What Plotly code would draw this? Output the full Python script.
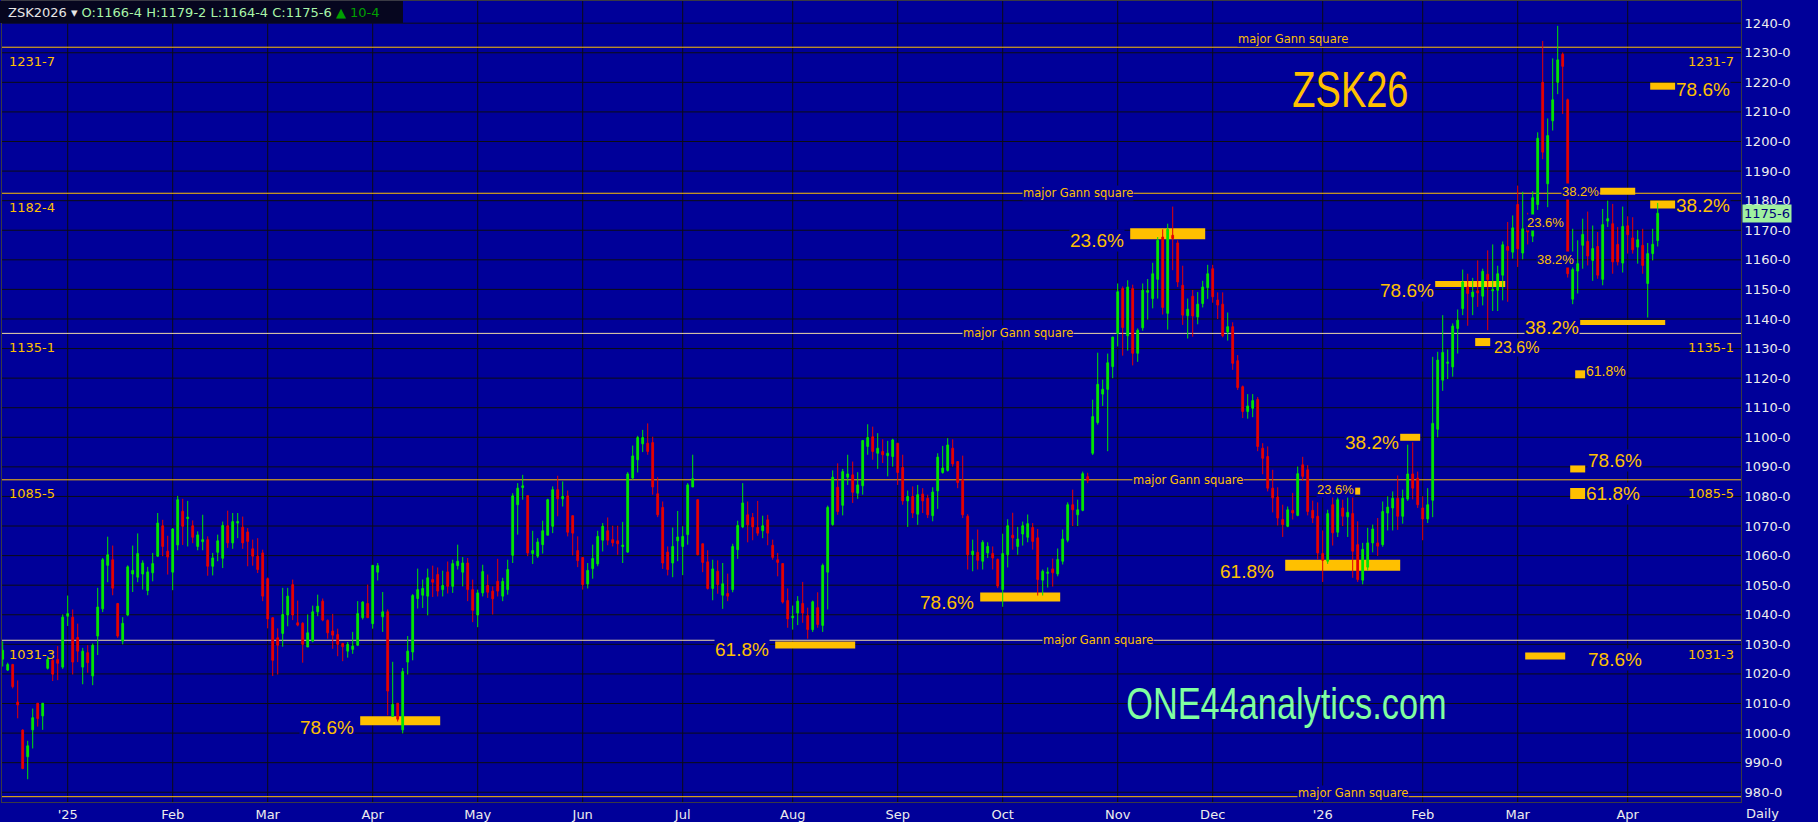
import math

import pandas as pd
import plotly.graph_objects as go


# ==========================================================
# DATA  (ZSK2026 daily, cents per bushel)
# ==========================================================

SYMBOL = "ZSK2026"
FIRST_SESSION = "2024-12-12"

HOLIDAYS = [
    "2024-12-25", "2025-01-01", "2025-01-20", "2025-02-17", "2025-04-18",
    "2025-05-26", "2025-06-19", "2025-07-04", "2025-09-01", "2025-11-27",
    "2025-12-25", "2026-01-01", "2026-01-19", "2026-02-16", "2026-04-03",
]

OPEN = [
    1025, 1021.3, 1023.2, 1010.5, 1001, 992, 1001.1, 1010.1, 1005.8, 1021.9,
    1024.6, 1024.9, 1022.3, 1039.5, 1039.2, 1032.3, 1022.3, 1027.2, 1019.3, 1032.8,
    1042, 1056.7, 1058.6, 1043.8, 1031.1, 1039.9, 1053.8, 1052.7, 1053.8, 1048.2,
    1054.2, 1059.8, 1070.1, 1061.5, 1054.4, 1063.6, 1075, 1072.5, 1070.1, 1063.1,
    1064.7, 1065.4, 1056.4, 1061.1, 1059.1, 1070.1, 1064.3, 1071, 1069.6, 1068,
    1062.3, 1059.8, 1060.9, 1052.2, 1039, 1032.2, 1033.7, 1039.9, 1050.2, 1037.3,
    1037.1, 1029.1, 1031.1, 1041, 1044.6, 1038.1, 1034.5, 1033.3, 1030.3, 1027.7,
    1028.3, 1029.7, 1039, 1043.8, 1037, 1054.4, 1039.3, 1041, 1005.6, 1010.1,
    1001.1, 1024, 1027.4, 1045.5, 1046.6, 1046.3, 1051.9, 1053.6, 1048.5, 1054.5,
    1049.6, 1056.6, 1054.4, 1057.5, 1048.5, 1039.9, 1047.4, 1049.9, 1048, 1051.3,
    1046.3, 1048.5, 1060.1, 1077.2, 1083, 1080.3, 1060.7, 1059.8, 1063.7, 1066.9,
    1069.9, 1082.3, 1079.2, 1080.2, 1073.5, 1061.7, 1059.4, 1050.4, 1055.6, 1057.2,
    1065.2, 1068.4, 1065.4, 1065, 1063.1, 1061.2, 1086.2, 1092.4, 1097.8, 1098,
    1098.2, 1080.9, 1076.3, 1061.2, 1057.5, 1065, 1063.1, 1067.1, 1083.2, 1078.9,
    1064, 1057.9, 1048.9, 1054.7, 1046.6, 1047.2, 1048.5, 1062, 1069.7, 1073.8,
    1072.9, 1069.5, 1068.4, 1072.1, 1063.5, 1058.6, 1057.3, 1044.8, 1039, 1040.6,
    1043.8, 1039.7, 1035, 1042.4, 1036.4, 1054.4, 1070.5, 1083.1, 1077, 1086.5,
    1087.3, 1081.1, 1083.6, 1096.9, 1100.2, 1094.6, 1095.2, 1093.8, 1093.5, 1098,
    1089.8, 1078.5, 1080, 1074, 1080.8, 1079.4, 1073.5, 1081.9, 1088.1, 1088.8,
    1096.3, 1091.8, 1085.6, 1073.3, 1060.3, 1061.1, 1058.1, 1060.9, 1060.7, 1058.7,
    1048.5, 1060.3, 1066.9, 1063.1, 1067.3, 1066.2, 1069.5, 1066, 1051.7, 1054,
    1055.5, 1053.8, 1058.1, 1065.2, 1077.2, 1073.8, 1075.3, 1086.7, 1094.6, 1105,
    1114.6, 1116.2, 1123.9, 1135.1, 1150.3, 1134.3, 1150.3, 1128.4, 1137, 1149,
    1146.9, 1153.4, 1167.7, 1141.9, 1168.3, 1165.7, 1151.4, 1141.1, 1147.7, 1140.7,
    1145.2, 1150.6, 1157, 1146.4, 1145, 1135.6, 1137.4, 1125.9, 1117.1, 1108.7,
    1109.8, 1112.8, 1096.3, 1093.5, 1082.8, 1079.8, 1072.2, 1069.9, 1075.3, 1073.6,
    1090.7, 1089, 1075.3, 1073.3, 1060.7, 1058.1, 1077.2, 1067.9, 1076.1, 1073.1,
    1074.2, 1063.7, 1051.7, 1056.1, 1064.3, 1064.3, 1063.7, 1074.4, 1076.1, 1079.4,
    1073.3, 1079.1, 1087.6, 1086.2, 1076.1, 1072.4, 1078.7, 1102.7, 1119.3, 1125,
    1123.8, 1136.8, 1143.5, 1150.8, 1147.5, 1149.5, 1147.7, 1155.1, 1149.5, 1149.7,
    1154.8, 1164.5, 1162.6, 1178.7, 1162.3, 1171, 1168, 1178.7, 1220, 1185.7,
    1207, 1220, 1229.5, 1214.1, 1146.7, 1156.2, 1164.9, 1166.2, 1159.8, 1164.5,
    1153.4, 1173.1, 1172.2, 1165.2, 1158.9, 1171.5, 1167.4, 1164.3, 1164.9, 1152,
    1162.1, 1166.5,
]

HIGH = [
    1031, 1023.8, 1023.4, 1017.8, 1001.3, 997.4, 1008.3, 1010.1, 1010.1, 1026,
    1025, 1029.4, 1040.1, 1046.5, 1041.8, 1037, 1028.8, 1029.7, 1030.3, 1049.1,
    1059.2, 1066.4, 1063.4, 1044, 1039.2, 1056.7, 1063.4, 1067.5, 1058.4, 1056.2,
    1060.9, 1074.4, 1072.1, 1066.7, 1069.3, 1080.2, 1079.2, 1078.5, 1071.9, 1068.2,
    1073.8, 1066.5, 1060.9, 1067.1, 1071.5, 1075.2, 1074.4, 1074.4, 1073.2, 1069.3,
    1065.4, 1065.9, 1062, 1052.6, 1039.2, 1035.4, 1049.1, 1049.1, 1051.9, 1044.8,
    1037.5, 1040.1, 1043.1, 1046.8, 1045.5, 1038.4, 1040.3, 1035.3, 1030.5, 1030.8,
    1034.2, 1044.6, 1044.6, 1050.2, 1056.7, 1057.5, 1047.7, 1041.8, 1024.1, 1010.1,
    1022, 1032.8, 1047, 1055.6, 1051.9, 1055.6, 1056.6, 1056, 1054.9, 1058,
    1058.6, 1063.7, 1059.5, 1059.2, 1051.9, 1048.5, 1056.9, 1053.6, 1049.6, 1058.9,
    1052.5, 1058.6, 1081.1, 1084.5, 1087.3, 1080.3, 1068.4, 1065.9, 1071.8, 1079.2,
    1083.4, 1087, 1085.1, 1082, 1073.5, 1066.5, 1059.4, 1057.5, 1063.7, 1068.4,
    1071, 1072.9, 1070.1, 1070.1, 1071.4, 1088.2, 1097.2, 1100.5, 1102.5, 1104.7,
    1100.2, 1086.5, 1078.3, 1063.1, 1069.5, 1075.1, 1069.9, 1084.5, 1094.1, 1079,
    1064, 1061.8, 1058.6, 1058.4, 1057.5, 1053.9, 1064, 1071.8, 1084.5, 1078.3,
    1074.4, 1078.5, 1073.5, 1073.8, 1065.4, 1060.9, 1057.3, 1048.9, 1043.1, 1046.3,
    1051.1, 1042.4, 1044.8, 1047.6, 1057.3, 1076.9, 1088.8, 1091.2, 1089.3, 1094.1,
    1091.8, 1088.2, 1099.1, 1104.4, 1103.6, 1101.4, 1099.3, 1098.8, 1099.5, 1098,
    1094.1, 1082, 1083.4, 1083.9, 1082.8, 1080.6, 1083.1, 1094.6, 1097.1, 1099.7,
    1099.3, 1091.8, 1093.8, 1074, 1065.4, 1068.8, 1065.2, 1064.5, 1063.1, 1059,
    1067.4, 1072.3, 1074.5, 1069.7, 1071.5, 1073.9, 1071, 1069, 1055.3, 1056,
    1059, 1062.4, 1068.8, 1078, 1082.3, 1078.9, 1088.4, 1088, 1112.7, 1128.6,
    1119.5, 1128.3, 1133.9, 1152, 1151, 1153.1, 1151.6, 1136.8, 1152, 1153.5,
    1159, 1167.7, 1170.3, 1172.2, 1178, 1166.6, 1158, 1146.9, 1149.8, 1149.1,
    1152.9, 1158.3, 1158.3, 1149, 1149, 1142.2, 1138.9, 1127.8, 1117.5, 1114.6,
    1114.6, 1113.6, 1098, 1096.9, 1089, 1083.1, 1077.2, 1076.6, 1081.2, 1090.1,
    1093.4, 1090.6, 1078.6, 1078, 1068.5, 1075.5, 1082.3, 1080, 1078.9, 1080.6,
    1083.6, 1071.6, 1064.3, 1069.4, 1070.5, 1072.7, 1078.3, 1080, 1081.7, 1087.1,
    1082.3, 1097.5, 1098.3, 1088.4, 1080, 1082.8, 1127.2, 1128.9, 1141.3, 1129.7,
    1138.5, 1143.2, 1156.7, 1155.3, 1153.9, 1159.8, 1157, 1163.2, 1165.2, 1158,
    1166.2, 1172.8, 1175, 1185.1, 1183, 1175.9, 1183.2, 1203.1, 1234, 1207.8,
    1228.1, 1239.1, 1230.1, 1214.5, 1170.5, 1166.6, 1173.9, 1176.3, 1171.6, 1169.4,
    1177.2, 1180, 1178.9, 1171.1, 1178, 1174.7, 1174.4, 1170, 1170.5, 1165.7,
    1170.5, 1179.25,
]

LOW = [
    1022.5, 1021, 1015.1, 1005, 987.8, 984.4, 994.8, 1002.2, 1001.1, 1021.5,
    1017.6, 1017.9, 1021.7, 1036.2, 1019.8, 1024, 1016.5, 1020.4, 1016.2, 1026.4,
    1040.9, 1051, 1046.6, 1032.2, 1030, 1039.5, 1047.7, 1051, 1048.5, 1046.6,
    1051.3, 1059.5, 1059.8, 1053.6, 1048.3, 1061.8, 1063.6, 1063.1, 1064.2, 1061.8,
    1061.8, 1053.2, 1053.3, 1058.1, 1055.8, 1062.6, 1062.3, 1065.9, 1062.3, 1056.4,
    1056.6, 1054.1, 1044.6, 1035.4, 1019.3, 1019.8, 1029.2, 1036.1, 1038.2, 1036.1,
    1023.8, 1029.1, 1030.7, 1039.5, 1037.8, 1031.9, 1028.5, 1026, 1024.3, 1025.5,
    1026.8, 1029.4, 1038.4, 1039, 1035.3, 1051.6, 1034.2, 1006, 1005.6, 1003.9,
    999.9, 1019.8, 1024.6, 1042.1, 1042.3, 1039.8, 1046, 1046.2, 1046.2, 1047.2,
    1047.4, 1055.3, 1049.6, 1044.6, 1037.5, 1035.8, 1046.2, 1045.7, 1040.1, 1046.2,
    1044.6, 1046.8, 1057.5, 1067.1, 1078.9, 1059.8, 1057.2, 1059.2, 1060.7, 1066.9,
    1067.6, 1073.3, 1076.6, 1066.5, 1060.1, 1056.1, 1048.5, 1048.9, 1052.2, 1056.4,
    1061.4, 1063.5, 1063.1, 1060.3, 1057.5, 1060.9, 1085.6, 1088.1, 1095, 1094.1,
    1080.6, 1073, 1055.5, 1053.3, 1052.7, 1058.1, 1053.4, 1063.7, 1083.2, 1060.1,
    1054.4, 1048.5, 1044.9, 1047.1, 1042, 1044.6, 1047.6, 1058.9, 1069.3, 1064.5,
    1065.2, 1066.7, 1065.9, 1063.5, 1058.6, 1053, 1043.8, 1035.6, 1035, 1036.5,
    1037.3, 1031.9, 1034.2, 1035.6, 1034.2, 1041.8, 1070.1, 1073.8, 1073.6, 1083.9,
    1077.8, 1079.2, 1080.6, 1094.1, 1092.4, 1089.3, 1091.3, 1086.8, 1090.1, 1083.9,
    1077.2, 1069.7, 1072.7, 1070.4, 1074.4, 1072.7, 1071.6, 1075.8, 1087.7, 1088.4,
    1090.1, 1082.8, 1072.7, 1055.3, 1054.7, 1055.3, 1055.3, 1059.2, 1055.3, 1049,
    1042.7, 1056, 1062, 1060.3, 1063.4, 1064.5, 1062, 1046.5, 1046.5, 1049.2,
    1049.5, 1053, 1057, 1064.5, 1070, 1070, 1075, 1084.5, 1094, 1104.3,
    1110.6, 1095.3, 1120, 1130.7, 1127.6, 1129.3, 1124.3, 1125.5, 1136, 1139.8,
    1143.6, 1146.9, 1141.5, 1136.4, 1156.5, 1150.8, 1138, 1133.4, 1134, 1138.2,
    1143.9, 1146.8, 1145.5, 1140, 1133.8, 1132.7, 1122.8, 1116, 1106.5, 1106.3,
    1106.8, 1095.3, 1087.5, 1081.7, 1074.6, 1070.2, 1066.3, 1069.6, 1072.2, 1073.3,
    1085.3, 1073.6, 1071, 1058.7, 1051.1, 1057.2, 1063.4, 1066.3, 1070, 1066.3,
    1052.5, 1051.1, 1050.3, 1055, 1061.1, 1059.9, 1063, 1068.5, 1068.5, 1068.7,
    1070.8, 1078.5, 1079, 1076.1, 1065.2, 1071, 1073, 1100, 1115.7, 1119.7,
    1120.5, 1128.3, 1141.3, 1137.7, 1141.3, 1144.1, 1144.6, 1136.2, 1142.7, 1142.7,
    1146.3, 1145.8, 1160.4, 1157.6, 1160.2, 1165.2, 1166, 1176.9, 1194, 1177.8,
    1203.7, 1216, 1209.3, 1154, 1145, 1148.6, 1157, 1158.1, 1152.9, 1153.6,
    1151.4, 1171.1, 1155.3, 1158.1, 1155.7, 1162.1, 1162.1, 1158.7, 1155.3, 1140.5,
    1159.8, 1164.5,
]

CLOSE = [
    1028, 1023.2, 1015.7, 1009.5, 988, 995.7, 1005.2, 1004.9, 1010.1, 1024.9,
    1019.9, 1023.6, 1039.2, 1040.4, 1024, 1027.7, 1027.7, 1023.8, 1029.7, 1042.6,
    1058.6, 1060.3, 1049, 1032.8, 1037.1, 1056.2, 1055, 1060.7, 1057.5, 1054.5,
    1057.3, 1071, 1063.1, 1059.5, 1069, 1078.9, 1069.9, 1073, 1066.2, 1067,
    1065.4, 1056.4, 1059.2, 1065, 1070.2, 1064.3, 1071.5, 1071.5, 1064.3, 1064.8,
    1059.8, 1055.3, 1046.3, 1038.6, 1024.6, 1029.7, 1040.1, 1046.3, 1039.9, 1036.5,
    1030, 1033.9, 1041, 1042.9, 1038.2, 1033.9, 1033.1, 1030, 1029.2, 1030,
    1029.4, 1040.4, 1044.3, 1039, 1056.7, 1056.6, 1041, 1014.2, 1009.7, 1004.7,
    1020.8, 1027.7, 1046.5, 1048.5, 1048.9, 1052.5, 1051, 1048, 1049.9, 1049.6,
    1057.3, 1058.1, 1057.5, 1048.5, 1041.5, 1047.4, 1054.6, 1047.6, 1045.4, 1048,
    1051.3, 1055.3, 1080.2, 1082.8, 1083.6, 1060.9, 1061.7, 1064.6, 1068.4, 1078.9,
    1082.3, 1079.2, 1080, 1067.9, 1067.6, 1058.3, 1050.2, 1055, 1059, 1066.5,
    1069.9, 1065.2, 1064.3, 1064, 1063.5, 1087.6, 1093.7, 1099.9, 1099.9, 1095.2,
    1083.2, 1073.8, 1057.5, 1055.3, 1063.1, 1066.3, 1066.5, 1083.9, 1086, 1060.3,
    1057.7, 1048.9, 1055.5, 1050.2, 1050.5, 1046.3, 1063.1, 1070.2, 1077.8, 1070.4,
    1069.7, 1067.6, 1070.1, 1067.6, 1059.4, 1057.7, 1044.3, 1038.6, 1039.5, 1044.6,
    1040.6, 1035, 1044.4, 1036.7, 1056.7, 1076.3, 1086.5, 1074.9, 1088.4, 1087.6,
    1081.4, 1083.9, 1098.9, 1099.9, 1095.2, 1096.3, 1094.1, 1094.6, 1099.1, 1088.1,
    1078.5, 1080, 1074.4, 1080.6, 1078.5, 1073.8, 1081.5, 1093.3, 1089.6, 1097.4,
    1091, 1084.7, 1073.8, 1060.3, 1061.5, 1058.4, 1064.5, 1063.1, 1059.2, 1049.7,
    1060.7, 1070.1, 1066, 1065.6, 1070.1, 1070.8, 1064.8, 1051.9, 1054.7, 1054.4,
    1054.2, 1058.7, 1065.6, 1077.2, 1075.5, 1075.5, 1087.7, 1085.4, 1107, 1117.9,
    1116.2, 1125.2, 1133.9, 1149.2, 1137.1, 1150.8, 1128.4, 1136.2, 1149.7, 1149.6,
    1155.3, 1166.6, 1143.9, 1170.3, 1167.2, 1152.5, 1141.3, 1143.3, 1141, 1145,
    1150.8, 1155.3, 1147.5, 1144.7, 1134.3, 1137.4, 1125, 1116.8, 1108.7, 1110.6,
    1112.4, 1096.9, 1092.9, 1082.8, 1079.5, 1072.7, 1070.5, 1075.5, 1074.4, 1087.7,
    1086.8, 1074.9, 1072.7, 1060.9, 1058.4, 1074.2, 1067.7, 1078.9, 1073.3, 1074.6,
    1061.5, 1051.9, 1062.1, 1064.3, 1069, 1063.2, 1074.9, 1076.4, 1079.4, 1073.3,
    1079.4, 1087.6, 1082.8, 1077.2, 1072.4, 1077.2, 1104.7, 1126.1, 1128.7, 1125.4,
    1137.6, 1139.6, 1152.5, 1148.6, 1149.1, 1148.8, 1156.1, 1153.3, 1149.9, 1155.3,
    1165.1, 1163.2, 1170.8, 1163.7, 1170.5, 1169.4, 1181, 1201.1, 1196.4, 1202,
    1214.1, 1227.6, 1225.4, 1155.3, 1156.7, 1158.7, 1168.6, 1161.3, 1163.8, 1154.8,
    1171.9, 1173.9, 1159.3, 1159.3, 1171.3, 1168.5, 1163.4, 1166.8, 1158.1, 1162.1,
    1165.25, 1175.75,
]

# Major Gann squares (price levels) and where their caption sits
GANN_LEVELS = [1231.875, 1182.5, 1135.125, 1085.625, 1031.375, 978.5]
GANN_CAPTION_DATES = [
    "2025-12-23", "2025-10-22", "2025-10-06", "2025-11-21", "2025-10-28", "2026-01-12",
]

# Fibonacci retracement markers
FIB_TEXT = [
    "78.6%", "61.8%", "78.6%", "23.6%", "61.8%", "23.6%", "38.2%", "78.6%", "38.2%",
    "23.6%", "61.8%", "78.6%", "61.8%", "78.6%", "38.2%", "78.6%", "38.2%",
]
FIB_LEVEL = [
    1004.2, 1029.8, 1046.0, 1168.8, 1056.7, 1081.8, 1100.0, 1151.8, 1138.8,
    1132.2, 1121.3, 1089.3, 1081.0, 1026.1, 1178.7, 1218.7, 1183.2,
]
FIB_START = [
    "2025-03-28", "2025-07-29", "2025-09-25", "2025-11-06", "2025-12-22", "2026-01-13",
    "2026-01-27", "2026-02-05", "2026-03-19", "2026-02-18", "2026-03-18", "2026-03-17",
    "2026-03-17", "2026-03-04", "2026-04-09", "2026-04-09", "2026-03-25",
]
FIB_END = [
    "2025-04-21", "2025-08-19", "2025-10-16", "2025-11-26", "2026-01-26", "2026-01-13",
    "2026-01-30", "2026-02-25", "2026-04-13", "2026-02-20", "2026-03-19", "2026-03-19",
    "2026-03-19", "2026-03-13", "2026-04-15", "2026-04-15", "2026-04-02",
]

# Loose retracement captions without a marker bar
NOTE_TEXT = ["23.6%", "38.2%"]
NOTE_LEVEL = [1172.6, 1160.2]
NOTE_DATE = ["2026-03-04", "2026-03-06"]

MONTH_TEXT = [
    "'25", "Feb", "Mar", "Apr", "May", "Jun", "Jul", "Aug",
    "Sep", "Oct", "Nov", "Dec", "'26", "Feb", "Mar", "Apr",
]
Y_TICKS = list(range(980, 1250, 10))


# ==========================================================
# STYLE
# ==========================================================

BG = "#000099"
GRID = "#0c0c14"
ORANGE = "#FFC000"
PALE = "#EED9A6"
UP = "#00E600"
DOWN = "#E60000"
AXIS_FONT = dict(family="DejaVu Sans", size=13, color="#EDEDED")
SANS = "Liberation Sans, Arial"

GANN_COLOR = [ORANGE, ORANGE, PALE, ORANGE, PALE, ORANGE]
GANN_CAPTION_DY = [-8, 0, 0, 0, 0, -4]
GANN_SIDE = [True, True, True, True, True, False]
GANN_RIGHT = [True, False, True, True, True, False]

# side of caption, font size, bar thickness, gap (px), vertical offset (px)
FIB_SIDE = ["L"] * 9 + ["R"] * 7 + ["L"]
FIB_SIZE = [19, 19, 19, 19, 19, 13, 19, 19, 19, 16, 14, 19, 19, 19, 19, 19, 13]
FIB_THICK = [9, 7, 9, 11, 11, 7, 7, 6, 5, 8, 8, 7, 11, 7, 8, 7, 7]
FIB_GAP = [5, 5, 5, 5, 10, 0, 0, 0, 0, 3, 0, 2, 0, 22, 0, 0, 0]
FIB_DY = [6.5, 4.5, 5.5, 6.5, 6, -1.5, 5.5, 6.3, 4.5, 5, -3, -8, 0, 3.5, 1, 3.5, 0]


# ==========================================================
# HELPERS
# ==========================================================

NOON = pd.Timedelta(hours=12)
DAY = pd.Timedelta(days=1)

cal = pd.bdate_range(FIRST_SESSION, "2026-06-30")
cal = cal[~cal.isin(pd.to_datetime(HOLIDAYS))]
dates = cal[: len(OPEN)] + NOON


def stamp(ts):
    return ts.strftime("%Y-%m-%d %H:%M:%S")


def pos(i):
    """0-based fractional session index -> timestamp on the broken axis."""
    base = int(math.floor(i))
    return stamp(cal[base] + NOON + (i - base) * DAY)


def idx(day):
    return cal.get_loc(pd.Timestamp(day))


def eighths(v):
    whole = int(math.floor(v + 1e-9))
    e = int(round((v - whole) * 8))
    if e == 8:
        whole, e = whole + 1, 0
    return f"{whole}-{e}"


# ==========================================================
# FIGURE
# ==========================================================

fig = go.Figure(
    go.Candlestick(
        x=[stamp(d) for d in dates],
        open=OPEN,
        high=HIGH,
        low=LOW,
        close=CLOSE,
        increasing=dict(line=dict(color=UP, width=1), fillcolor=UP),
        decreasing=dict(line=dict(color=DOWN, width=1), fillcolor=DOWN),
        whiskerwidth=0,
        showlegend=False,
        hoverinfo="skip",
    )
)

# month ticks (first session of each month)
month_ticks = []
for per in pd.period_range("2025-01", "2026-04", freq="M"):
    first = cal[(cal.year == per.year) & (cal.month == per.month)][0]
    month_ticks.append(stamp(first + NOON))

x_start = stamp(dates[0] - 0.14 * DAY)
x_end = pos(len(OPEN) - 1 + 16.66)

# grid drawn as shapes so the retracement bars can sit on top of it
for v in Y_TICKS:
    fig.add_shape(
        type="line", xref="paper", x0=0, x1=1, y0=v, y1=v,
        line=dict(color=GRID, width=1), layer="below",
    )
for t in month_ticks:
    fig.add_shape(
        type="line", yref="paper", y0=0, y1=1, x0=t, x1=t,
        line=dict(color=GRID, width=1), layer="below",
    )

# Gann lines
for lvl, col in zip(GANN_LEVELS, GANN_COLOR):
    fig.add_shape(
        type="line", xref="paper", x0=0, x1=1, yref="y", y0=lvl, y1=lvl,
        line=dict(color=col, width=1), layer="below",
    )

for lvl, day, dy in zip(GANN_LEVELS, GANN_CAPTION_DATES, GANN_CAPTION_DY):
    fig.add_annotation(
        x=pos(idx(day)), y=lvl, xanchor="center", text="major Gann square",
        showarrow=False,
        font=dict(family="DejaVu Sans", size=11.5, color=ORANGE),
        bgcolor=BG, borderpad=0, yshift=-dy,
    )

for lvl, left, right in zip(GANN_LEVELS, GANN_SIDE, GANN_RIGHT):
    if left:
        fig.add_annotation(
            xref="paper", x=0, xanchor="left", xshift=5, y=lvl, yshift=-14,
            text=eighths(lvl), showarrow=False,
            font=dict(family="DejaVu Sans", size=13, color=ORANGE),
        )
    if right:
        fig.add_annotation(
            xref="paper", x=1, xanchor="right", xshift=-5, y=lvl, yshift=-14,
            text=eighths(lvl), showarrow=False,
            font=dict(family="DejaVu Sans", size=13, color=ORANGE),
        )

# Fibonacci bars + captions
for k, (txt, lvl, s, e) in enumerate(zip(FIB_TEXT, FIB_LEVEL, FIB_START, FIB_END)):
    i0, i1 = idx(s) - 0.5, idx(e) + 0.5
    fig.add_shape(
        type="line", x0=pos(i0), x1=pos(i1), y0=lvl, y1=lvl,
        line=dict(color=ORANGE, width=FIB_THICK[k]), layer="below",
    )
    left = FIB_SIDE[k] == "L"
    fig.add_annotation(
        x=pos(i0) if left else pos(i1),
        xanchor="right" if left else "left",
        xshift=-FIB_GAP[k] if left else FIB_GAP[k],
        y=lvl, yshift=-FIB_DY[k],
        text=txt, showarrow=False, bgcolor=BG, borderpad=0,
        font=dict(family=SANS, size=FIB_SIZE[k], color=ORANGE),
    )

for txt, lvl, day in zip(NOTE_TEXT, NOTE_LEVEL, NOTE_DATE):
    fig.add_annotation(
        x=pos(idx(day) - 0.5), xanchor="left", xshift=1, y=lvl,
        text=txt, showarrow=False, bgcolor=BG, borderpad=0,
        font=dict(family=SANS, size=13, color=ORANGE),
    )

# Title + watermark (narrowed in the page script below)
fig.add_annotation(
    xref="paper", yref="paper", x=0.7752, y=0.8892, xanchor="center", yanchor="middle",
    text="ZSK26", showarrow=False,
    font=dict(family=SANS, size=50, color=ORANGE),
)
fig.add_annotation(
    xref="paper", yref="paper", x=0.7389, y=0.1233, xanchor="center", yanchor="middle",
    text="ONE44analytics.com", showarrow=False,
    font=dict(family=SANS, size=44, color="#80FFA0"),
)

# header strip
fig.add_shape(
    type="rect", xref="paper", yref="paper", xsizemode="pixel", ysizemode="pixel",
    xanchor=0, yanchor=1, x0=-2, x1=401, y0=0, y1=-22,
    fillcolor="#06061f", line=dict(width=0), layer="above",
)
last_o, last_h, last_l, last_c = OPEN[-1], HIGH[-1], LOW[-1], CLOSE[-1]
chg = last_c - CLOSE[-2]
header = (
    f'<span style="color:#E6E6E6">{SYMBOL} ▾</span> '
    f'<span style="color:#A8F5A8">O:{eighths(last_o)} H:{eighths(last_h)} '
    f'L:{eighths(last_l)} C:{eighths(last_c)}</span> '
    f'<span style="color:#00A000">▲ {eighths(chg)}</span>'
)
fig.add_annotation(
    xref="paper", yref="paper", x=0, y=1, xanchor="left", yanchor="top",
    xshift=4, yshift=-2, text=header, showarrow=False,
    font=dict(family="DejaVu Sans", size=13, color="#E6E6E6"),
)

# last price box on the price scale
fig.add_annotation(
    xref="paper", x=1, xanchor="left", xshift=1, y=last_c, text=eighths(last_c),
    showarrow=False, bgcolor="#A0F0A0", borderpad=1,
    font=dict(family="DejaVu Sans", size=13, color="#00007A"),
)

fig.add_annotation(
    xref="paper", yref="paper", x=1, y=0, xanchor="left", yanchor="top",
    xshift=3, yshift=-2, text="Daily", showarrow=False, font=AXIS_FONT,
)

fig.update_layout(
    width=1818,
    height=822,
    margin=dict(l=2, r=77, t=0, b=19),
    paper_bgcolor=BG,
    plot_bgcolor=BG,
    showlegend=False,
    boxgap=0.5,
    font=AXIS_FONT,
)

fig.update_xaxes(
    type="date",
    range=[x_start, x_end],
    rangebreaks=[dict(bounds=["sat", "mon"]), dict(values=HOLIDAYS)],
    rangeslider=dict(visible=False),
    tickmode="array",
    tickvals=month_ticks,
    ticktext=MONTH_TEXT,
    showgrid=False,
    zeroline=False,
    showline=True,
    linecolor="#3a3a44",
    mirror=True,
    ticks="",
    tickfont=AXIS_FONT,
)

fig.update_yaxes(
    side="right",
    range=[976.7, 1247.5],
    tickmode="array",
    tickvals=Y_TICKS,
    ticktext=[f"{v}-0" for v in Y_TICKS],
    showgrid=False,
    zeroline=False,
    showline=True,
    linecolor="#3a3a44",
    mirror=True,
    ticks="",
    tickfont=AXIS_FONT,
)

PAGE_JS = """
document.body.style.margin = '0';
document.body.style.background = '#000099';
var narrow = {'ZSK26': 0.76, 'ONE44analytics.com': 0.78};
document.querySelectorAll('text.annotation-text').forEach(function (t) {
    var s = narrow[t.textContent];
    if (s) {
        t.style.transformBox = 'fill-box';
        t.style.transformOrigin = 'center';
        t.style.transform = 'scaleX(' + s + ')';
    }
});
"""

fig.write_html("out.html", config={"displayModeBar": False}, post_script=PAGE_JS)
